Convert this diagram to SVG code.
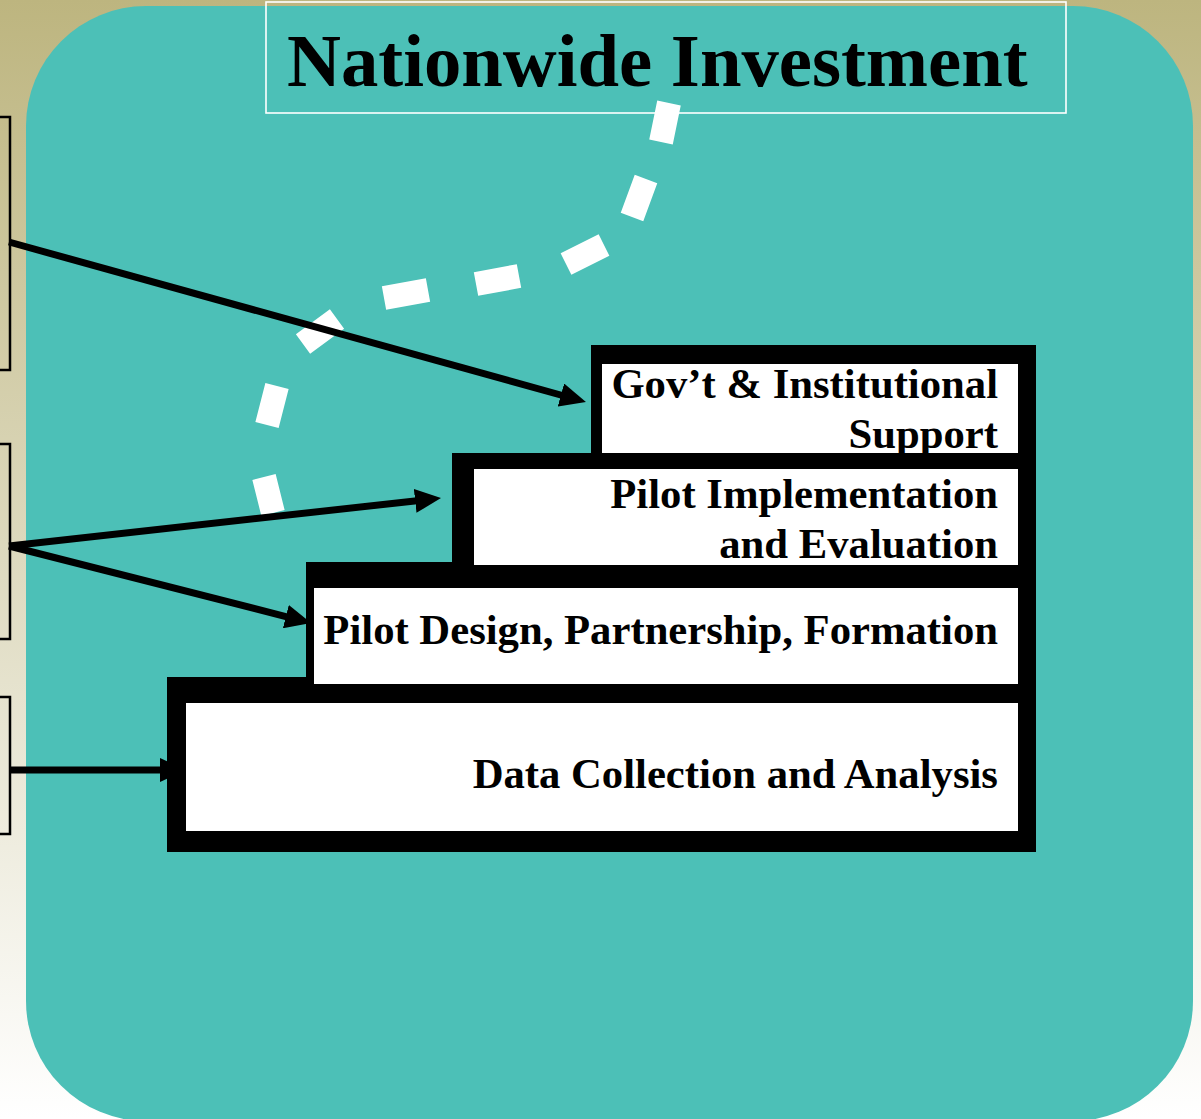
<svg xmlns="http://www.w3.org/2000/svg" width="1201" height="1119" viewBox="0 0 1201 1119">
<defs>
<linearGradient id="bg" x1="0" y1="0" x2="0" y2="1">
<stop offset="0" stop-color="#BDB57F"/>
<stop offset="1" stop-color="#FFFFFF"/>
</linearGradient>
<marker id="ah" viewBox="0 0 26 24" refX="11" refY="12" markerWidth="26" markerHeight="24" markerUnits="userSpaceOnUse" orient="auto">
<path d="M0,0 L26,12 L0,24 z" fill="#000"/>
</marker>
<style>
.side{fill:none;stroke:#000;stroke-width:2.5}
.conn{stroke:#000;stroke-width:7;fill:none;marker-end:url(#ah)}
.lbl{font-family:"Liberation Serif","Times New Roman",serif;font-weight:bold;font-size:42.7px;fill:#000;text-anchor:end}
.inner{fill:#fff}
.dash{fill:none;stroke:#fff;stroke-width:24;stroke-linecap:butt}
</style>
</defs>
<rect x="0" y="0" width="1201" height="1119" fill="url(#bg)"/>
<g id="left-boxes">
<rect class="side" x="-10" y="117" width="20" height="253"/>
<rect class="side" x="-10" y="444" width="20" height="195"/>
<rect class="side" x="-10" y="697" width="20" height="137"/>
</g>
<rect id="panel" x="26" y="6" width="1167" height="1115" rx="120" ry="120" fill="#4CC0B7"/>
<g id="title">
<rect x="266" y="2" width="800" height="111" fill="none" stroke="#fff" stroke-width="1.6"/>
<text x="287" y="86" font-family="'Liberation Serif','Times New Roman',serif" font-weight="bold" font-size="74.7px" fill="#000">Nationwide Investment</text>
</g>
<path id="dashed-path" class="dash" d="M669 103 L661 142 M646 179 L632 217 M604 245 L566 264 M519 276 L476 284 M428 290 L384 298 M337 319 L303 344 M277 386 L267 425 M264 477 L273 513"/>
<g id="connectors">
<line class="conn" x1="9" y1="242" x2="571.5" y2="398"/>
<line class="conn" x1="9" y1="546" x2="426.1" y2="499.7"/>
<line class="conn" x1="9" y1="546" x2="296.5" y2="619.3"/>
<line class="conn" x1="9" y1="770" x2="171" y2="770"/>
</g>
<path id="staircase" d="M591 345 H1036 V852 H167 V677 H306 V562 H452 V453 H591 Z" fill="#000"/>
<g id="step-gov">
<rect class="inner" x="602" y="364" width="416" height="89"/>
<text class="lbl" x="998" y="398">Gov’t &amp; Institutional</text>
<text class="lbl" x="998" y="448">Support</text>
</g>
<g id="step-pilot-impl">
<rect class="inner" x="474" y="469" width="544" height="96"/>
<text class="lbl" x="998" y="508">Pilot Implementation</text>
<text class="lbl" x="998" y="558">and Evaluation</text>
</g>
<g id="step-pilot-design">
<rect class="inner" x="314" y="588" width="704" height="96"/>
<text class="lbl" x="998" y="644">Pilot Design, Partnership, Formation</text>
</g>
<g id="step-data">
<rect class="inner" x="186" y="703" width="832" height="128"/>
<text class="lbl" x="998" y="788">Data Collection and Analysis</text>
</g>
</svg>
